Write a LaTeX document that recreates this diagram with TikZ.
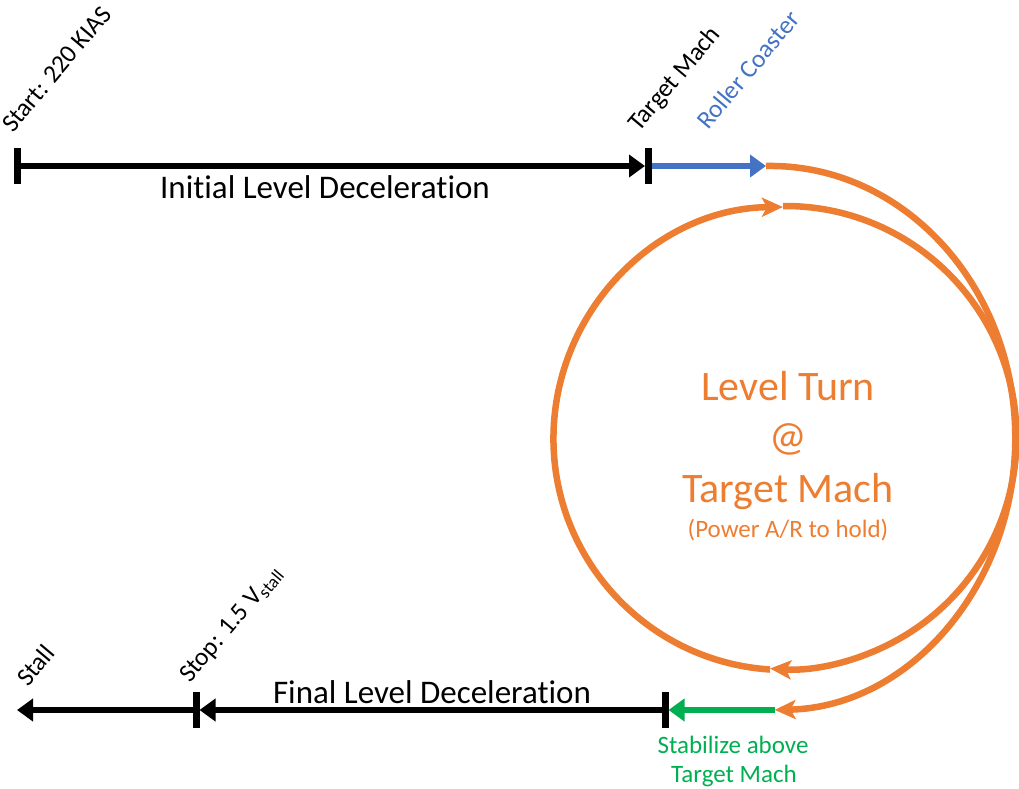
\documentclass[tikz,border=0pt]{standalone}
\usepackage{fontspec}
\setmainfont{Carlito}[Ligatures={CommonOff}]
\usetikzlibrary{arrows.meta}
\definecolor{orng}{HTML}{ED7D31}
\definecolor{blu}{HTML}{4472C4}
\definecolor{grn}{HTML}{00B050}
\tikzset{
  blk/.style={line width=6.5pt, black},
  tickln/.style={line width=7pt, black},
  orn/.style={line width=6.5pt, orng},
  tri/.style={-{Triangle[length=16pt,width=22pt]}},
  stl/.style={-{Stealth[length=21pt,width=19pt,inset=5pt]}},
  lab/.style={inner sep=0pt, anchor=base west, rotate=50, font=\fontsize{25.5}{30}\selectfont},
  big/.style={inner sep=0pt, anchor=base, font=\fontsize{33}{40}\selectfont},
  ctr/.style={inner sep=0pt, anchor=base, text=orng, font=\fontsize{42}{50}\selectfont},
  grtxt/.style={inner sep=0pt, anchor=base, text=grn, font=\fontsize{25}{30}\selectfont},
}
\begin{document}
\begin{tikzpicture}[x=1pt,y=-1pt]
\useasboundingbox (0,0) rectangle (1019,788);
% key points
\coordinate (s) at (17,166);
\coordinate (tm) at (648.5,166);
\coordinate (rc) at (766,166);
\coordinate (ge) at (774.6,710);
\coordinate (tm2) at (665,710);
\coordinate (sp) at (196,710);
\coordinate (st) at (17,710);
\coordinate (ct) at (783,206);
\coordinate (cb) at (770,669.5);
% top line
\draw[blk, tri] (s) -- ([xshift=-3.5pt]tm);
\draw[line width=6.5pt, blu, tri] ([xshift=3.5pt]tm) -- (rc);
\draw[tickln] ([yshift=-18pt]s) -- ([yshift=18pt]s);
\draw[tickln] ([yshift=-18pt]tm) -- ([yshift=18pt]tm);
% outer orange path
\draw[orn, stl] (rc) arc[start angle=91, end angle=-89, x radius=245pt, y radius=272pt];
% inner circle
\draw[orn, stl] (ct) arc[start angle=90.5, end angle=-93.7, radius=231.5pt];
\draw[orn, stl] (cb) arc[start angle=266.3, end angle=90.5, radius=231.5pt];
% bottom line
\draw[line width=6.5pt, grn, tri] (ge) -- ([xshift=3.5pt]tm2);
\draw[blk, tri] ([xshift=-3.5pt]tm2) -- ([xshift=3.5pt]sp);
\draw[blk, tri] ([xshift=-3.5pt]sp) -- (st);
\draw[tickln] ([yshift=-18pt]tm2) -- ([yshift=18pt]tm2);
\draw[tickln] ([yshift=-18pt]sp) -- ([yshift=18pt]sp);
% labels
\node[lab] (lstart) at (13,134) {Start: 220 KIAS};
\node[lab] (ltm) at (639,133) {Target Mach};
\node[lab, text=blu] (lrc) at (708,131) {Roller Coaster};
\node[lab] (lstall) at (28,688) {Stall};
\node[lab] (lstop) at (190,684) {Stop: 1.5 V\textsubscript{stall}};
\node[big] (lild) at (325,198) {Initial Level Deceleration};
\node[big] (lfld) at (432,703) {Final Level Deceleration};
\node[ctr] (llt) at (788,400) {Level Turn};
\node[ctr] (lat) at (788,450) {@};
\node[ctr] (ltm2) at (788,502) {Target Mach};
\node[ctr, font=\fontsize{25}{30}\selectfont] (lpow) at (788,537) {(Power A/R to hold)};
\node[grtxt] (lstab1) at (733,753) {Stabilize above};
\node[grtxt] (lstab2) at (734,782) {Target Mach};
\end{tikzpicture}
\end{document}
